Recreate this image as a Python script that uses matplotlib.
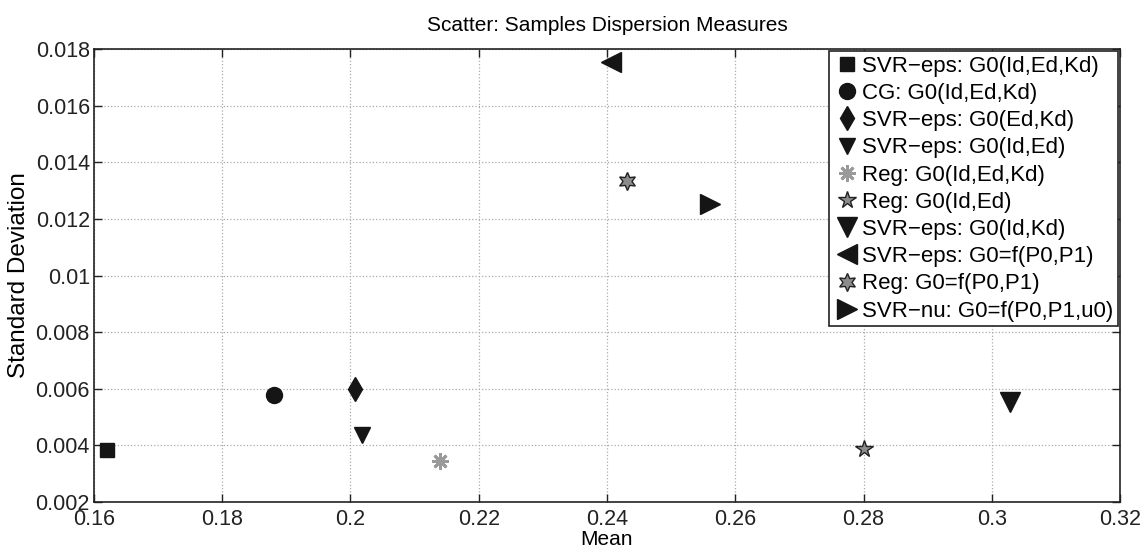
import numpy as np
import matplotlib
matplotlib.use("Agg")
import matplotlib.pyplot as plt

plt.rcParams['font.family'] = ['Liberation Sans', 'DejaVu Sans']

# data
labels = ["SVR\u2212eps: G0(Id,Ed,Kd)", "CG: G0(Id,Ed,Kd)", "SVR\u2212eps: G0(Ed,Kd)",
          "SVR\u2212eps: G0(Id,Ed)", "Reg: G0(Id,Ed,Kd)", "Reg: G0(Id,Ed)",
          "SVR\u2212eps: G0(Id,Kd)", "SVR\u2212eps: G0=f(P0,P1)", "Reg: G0=f(P0,P1)",
          "SVR\u2212nu: G0=f(P0,P1,u0)"]
means = [0.1621, 0.1881, 0.2007, 0.2018, 0.2139, 0.2800, 0.3029, 0.2407, 0.2431, 0.2560]
stds = [0.00382, 0.00578, 0.00599, 0.00437, 0.00344, 0.00388, 0.00555, 0.01755, 0.01335, 0.01253]

xticks = [0.16, 0.18, 0.2, 0.22, 0.24, 0.26, 0.28, 0.3, 0.32]
yticks = [0.002, 0.004, 0.006, 0.008, 0.01, 0.012, 0.014, 0.016, 0.018]

markers = ['s', 'o', 'd', 'v', (8, 2, 0), '*', 'v', '<', (6, 1, 0), '>']
sizes = [9.5, 11.5, 12.5, 11, 12, 13, 14.5, 14.5, 13, 14.5]
faces = ['#151515', '#151515', '#151515', '#151515', '#9a9a9a', '#8c8c8c',
         '#151515', '#151515', '#8c8c8c', '#151515']
edges = ['#151515', '#151515', '#151515', '#151515', '#9a9a9a', '#222222',
         '#151515', '#151515', '#222222', '#151515']
ew = [1, 1, 1, 1, 2.0, 1, 1, 1, 1, 1]

fig = plt.figure(figsize=(11.43, 5.48), dpi=100)
ax = fig.add_axes([0.0822, 0.0839, 0.8977, 0.8267])

for i in range(len(labels)):
    ax.plot(means[i], stds[i], linestyle='none', marker=markers[i], ms=sizes[i],
            mfc=faces[i], mec=edges[i], mew=ew[i], label=labels[i])

ax.set_xlim(0.16, 0.32)
ax.set_ylim(0.002, 0.018)
ax.set_xticks(xticks)
ax.set_xticklabels([f"{v:g}" for v in xticks])
ax.set_yticks(yticks)
ax.set_yticklabels([f"{v:g}" for v in yticks])
ax.tick_params(direction='in', top=True, right=True, labelsize=15.5, length=6, width=1,
               colors='#222222')
ax.tick_params(axis='x', pad=5)
ax.tick_params(axis='y', pad=3)
ax.grid(True, linestyle=':', color='#aaaaaa', linewidth=0.9)
for s in ax.spines.values():
    s.set_linewidth(1.2)
    s.set_color('#222222')

ax.set_xlabel("Mean", fontsize=15, labelpad=0)
ax.set_ylabel("Standard Deviation", fontsize=17.5, labelpad=4)
ax.set_title("Scatter: Samples Dispersion Measures", fontsize=15, pad=13)

leg = ax.legend(loc='upper right', fontsize=16, numpoints=1, handlelength=1.2,
                handletextpad=0.1, borderpad=0.2, labelspacing=0.28,
                fancybox=False, framealpha=1, borderaxespad=0.1)
leg.get_frame().set_edgecolor('#222222')
leg.get_frame().set_linewidth(1.2)

fig.savefig("out.png", dpi=100)
